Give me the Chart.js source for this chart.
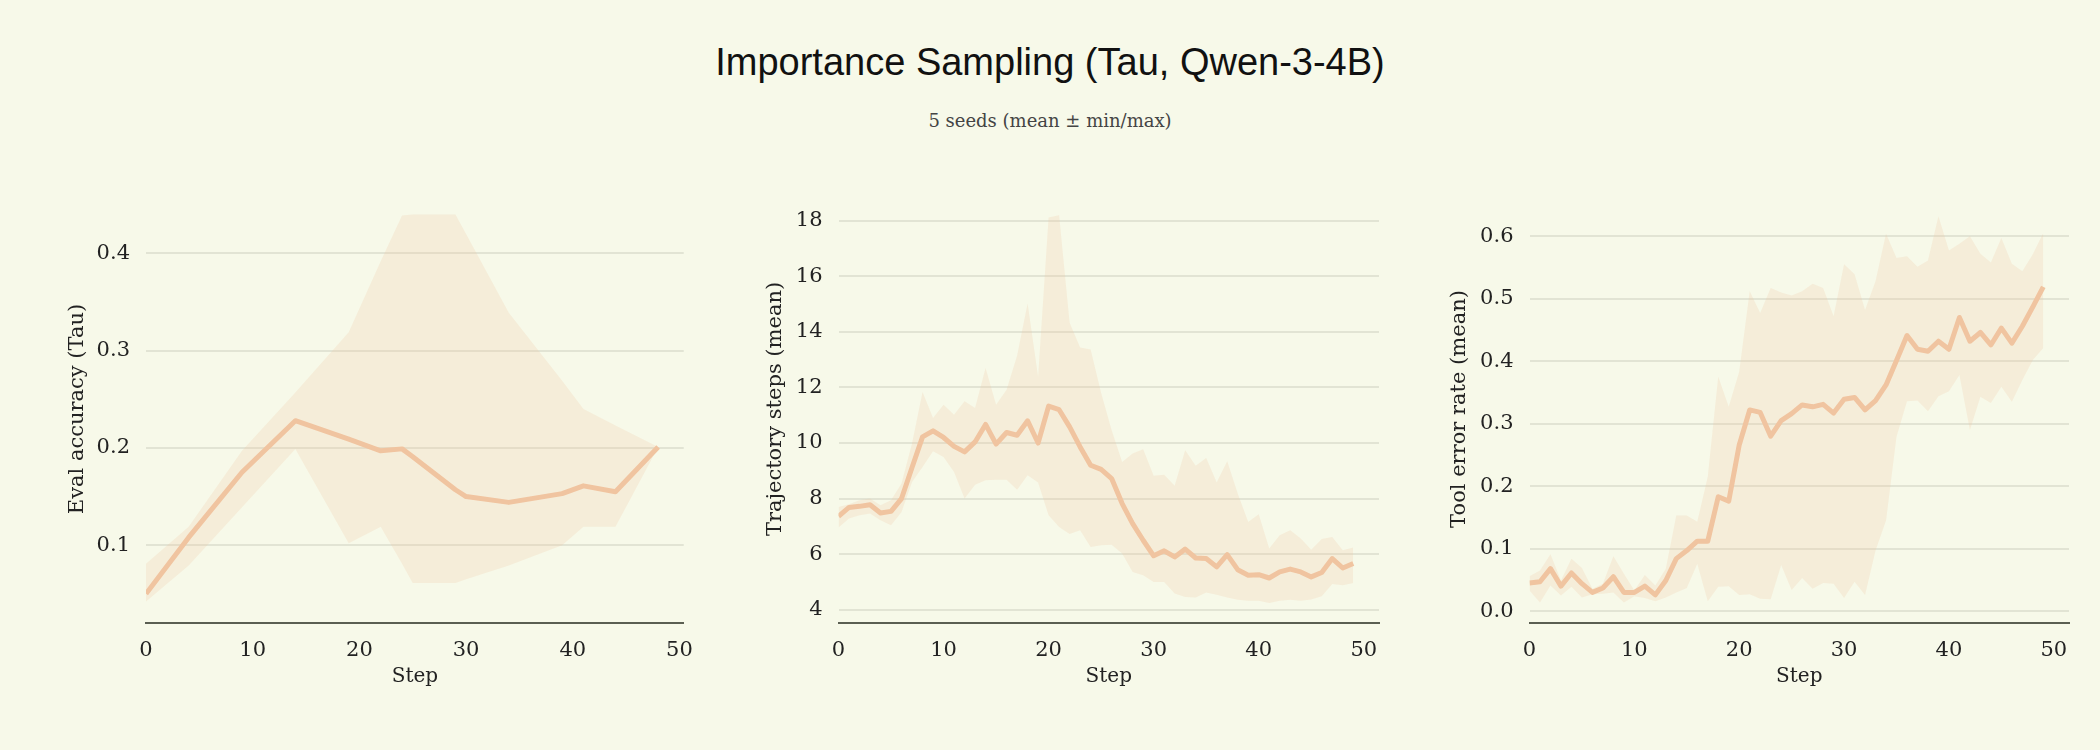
<!DOCTYPE html>
<html lang="en">
<head>
<meta charset="UTF-8" />
<title>Importance Sampling (Tau, Qwen-3-4B)</title>
<script src="https://cdn.jsdelivr.net/npm/chart.js@4.4.1/dist/chart.umd.min.js"></script>
<style>
  body { margin: 0; width: 2100px; height: 750px; background: #f7f9e9; position: relative; overflow: hidden; }
  #title { position: absolute; left: 0; top: 43px; width: 2100px; text-align: center;
           font: 38px/38px "Liberation Sans", Arial, sans-serif; color: #111; }
  #subtitle { position: absolute; left: 0; top: 112px; width: 2100px; text-align: center;
              font: 18px/18px "DejaVu Serif", serif; color: #444; }
  canvas { position: absolute; top: 190px; }
</style>
</head>
<body>
<div id="title">Importance Sampling (Tau, Qwen-3-4B)</div>
<div id="subtitle">5 seeds (mean ± min/max)</div>
<canvas id="c1" width="643" height="510" style="left:65px"></canvas>
<canvas id="c2" width="636" height="510" style="left:763px"></canvas>
<canvas id="c3" width="642" height="510" style="left:1447px"></canvas>

<script>
// ---- data ----
const xTicks = [0, 10, 20, 30, 40, 50];

// eval accuracy, only evaluated at some steps
const evalSteps = [0, 4, 9, 14, 19, 22, 24, 25, 29, 30, 34, 39, 41, 44, 48];
const evalMean  = [0.050, 0.108, 0.175, 0.228, 0.209, 0.197, 0.199, 0.191, 0.157, 0.150, 0.144, 0.153, 0.161, 0.155, 0.201];
const evalMin   = [0.042, 0.079, 0.139, 0.199, 0.102, 0.119, 0.081, 0.061, 0.061, 0.065, 0.079, 0.100, 0.119, 0.119, 0.201];
const evalMax   = [0.081, 0.119, 0.197, 0.257, 0.319, 0.392, 0.439, 0.440, 0.440, 0.420, 0.339, 0.269, 0.240, 0.223, 0.201];
const evalTicks = [0.1, 0.2, 0.3, 0.4];

const steps = [0, 1, 2, 3, 4, 5, 6, 7, 8, 9, 10, 11, 12, 13, 14, 15, 16, 17, 18, 19,
               20, 21, 22, 23, 24, 25, 26, 27, 28, 29, 30, 31, 32, 33, 34, 35, 36, 37, 38, 39,
               40, 41, 42, 43, 44, 45, 46, 47, 48, 49];

const trajMean = [7.36, 7.68, 7.72, 7.78, 7.48, 7.54, 8.0, 9.12, 10.22, 10.44,
                  10.2, 9.88, 9.68, 10.04, 10.67, 9.96, 10.38, 10.28, 10.8, 10.0,
                  11.33, 11.2, 10.58, 9.86, 9.2, 9.05, 8.72, 7.82, 7.1, 6.5,
                  5.94, 6.12, 5.9, 6.18, 5.86, 5.84, 5.54, 5.98, 5.44, 5.24,
                  5.26, 5.14, 5.36, 5.46, 5.36, 5.18, 5.34, 5.84, 5.5, 5.66];
const trajMin  = [6.96, 7.28, 7.4, 7.46, 7.22, 7.04, 7.52, 8.6, 9.14, 9.7,
                  9.5, 8.96, 8.0, 8.5, 8.66, 8.68, 8.68, 8.32, 8.84, 8.58,
                  7.4, 6.98, 6.72, 6.86, 6.26, 6.32, 6.34, 6.02, 5.36, 5.24,
                  5.0, 5.0, 4.58, 4.46, 4.44, 4.62, 4.54, 4.44, 4.36, 4.32,
                  4.32, 4.24, 4.32, 4.36, 4.32, 4.37, 4.48, 4.92, 4.88, 4.96];
const trajMax  = [7.7, 7.8, 7.94, 8.0, 7.76, 7.94, 8.54, 9.98, 11.84, 10.9,
                  11.38, 11.02, 11.5, 11.26, 12.7, 11.38, 11.92, 13.14, 15.02, 12.38,
                  18.12, 18.2, 14.33, 13.44, 13.37, 11.8, 10.46, 9.32, 9.62, 9.78,
                  8.82, 8.86, 8.46, 9.74, 9.18, 9.46, 8.58, 9.34, 8.18, 7.16,
                  7.44, 6.2, 6.68, 6.86, 6.56, 6.16, 6.54, 6.62, 6.14, 6.24];
const trajTicks = [4, 6, 8, 10, 12, 14, 16, 18];

const toolMean = [0.045, 0.047, 0.068, 0.040, 0.061, 0.044, 0.030, 0.037, 0.055, 0.030,
                  0.030, 0.040, 0.026, 0.049, 0.084, 0.097, 0.112, 0.112, 0.183, 0.176,
                  0.266, 0.322, 0.318, 0.280, 0.305, 0.316, 0.330, 0.327, 0.331, 0.317,
                  0.339, 0.342, 0.322, 0.337, 0.362, 0.401, 0.441, 0.419, 0.416, 0.432,
                  0.419, 0.470, 0.432, 0.446, 0.426, 0.453, 0.429, 0.456, 0.487, 0.519];
const toolMin  = [0.033, 0.014, 0.041, 0.025, 0.039, 0.022, 0.027, 0.028, 0.030, 0.014,
                  0.024, 0.021, 0.016, 0.022, 0.030, 0.037, 0.076, 0.016, 0.039, 0.040,
                  0.026, 0.027, 0.020, 0.019, 0.074, 0.034, 0.053, 0.036, 0.045, 0.044,
                  0.021, 0.047, 0.026, 0.097, 0.145, 0.279, 0.336, 0.337, 0.320, 0.344,
                  0.352, 0.378, 0.290, 0.343, 0.333, 0.359, 0.335, 0.370, 0.402, 0.421];
const toolMax  = [0.056, 0.065, 0.091, 0.049, 0.084, 0.069, 0.036, 0.044, 0.088, 0.060,
                  0.033, 0.058, 0.041, 0.068, 0.153, 0.153, 0.143, 0.215, 0.375, 0.327,
                  0.383, 0.512, 0.477, 0.517, 0.510, 0.505, 0.512, 0.524, 0.517, 0.472,
                  0.555, 0.539, 0.482, 0.528, 0.604, 0.565, 0.568, 0.551, 0.561, 0.632,
                  0.577, 0.588, 0.600, 0.572, 0.558, 0.597, 0.556, 0.544, 0.571, 0.605];
const toolTicks = [0.0, 0.1, 0.2, 0.3, 0.4, 0.5, 0.6];

// ---- drawing ----
const LINE = '#f0c4a0';
const BAND = 'rgba(240,196,160,0.22)';
const SERIF = '"DejaVu Serif", serif';

function pts(xs, ys) {
  return xs.map((x, i) => ({ x: x, y: ys[i] }));
}

function panel(id, xs, mean, lo, hi, o) {
  new Chart(document.getElementById(id), {
    type: 'line',
    data: {
      datasets: [
        { data: pts(xs, mean), borderColor: LINE, borderWidth: 5, borderJoinStyle: 'round',
          pointRadius: 0, fill: false, tension: 0 },
        { data: pts(xs, hi), borderWidth: 0, pointRadius: 0, backgroundColor: BAND, fill: '+1', tension: 0 },
        { data: pts(xs, lo), borderWidth: 0, pointRadius: 0, fill: false, tension: 0 }
      ]
    },
    options: {
      responsive: false,
      animation: false,
      layout: { padding: { top: 5, right: 20, left: 0, bottom: 0 } },
      plugins: { legend: { display: false }, tooltip: { enabled: false } },
      scales: {
        x: {
          type: 'linear', min: 0, max: o.xMax,
          afterBuildTicks: s => { s.ticks = xTicks.map(v => ({ value: v })); },
          afterFit: s => { s.height = 77; },
          grid: { display: false, drawTicks: false },
          border: { display: true, color: '#5b5f52', width: 2 },
          ticks: { padding: 15, color: '#222', font: { family: SERIF, size: 21 } },
          title: { display: true, text: 'Step', color: '#222', padding: { top: 0, bottom: 11 },
                   font: { family: SERIF, size: 20 } }
        },
        y: {
          min: o.yMin, max: o.yMax,
          afterBuildTicks: s => { s.ticks = o.yTicks.map(v => ({ value: v })); },
          // fixed width, and no extra top/bottom room for the tick labels
          afterFit: s => { s.width = o.axisW; s.paddingTop = 0; s.paddingBottom = 0; },
          grid: { color: '#e2e4d4', lineWidth: 2, drawTicks: false },
          border: { display: false },
          ticks: { padding: 16, color: '#222', font: { family: SERIF, size: 21 },
                   callback: v => v.toFixed(o.digits) },
          title: { display: true, text: o.label, color: '#222', padding: 0,
                   font: { family: SERIF, size: 21 } }
        }
      }
    }
  });
}

panel('c1', evalSteps, evalMean, evalMin, evalMax,
      { xMax: 50.4, yMin: 0.02, yMax: 0.46, yTicks: evalTicks, digits: 1, axisW: 81, label: 'Eval accuracy (Tau)' });
panel('c2', steps, trajMean, trajMin, trajMax,
      { xMax: 51.45, yMin: 3.52, yMax: 18.93, yTicks: trajTicks, digits: 0, axisW: 75.5, label: 'Trajectory steps (mean)' });
panel('c3', steps, toolMean, toolMin, toolMax,
      { xMax: 51.45, yMin: -0.019, yMax: 0.666, yTicks: toolTicks, digits: 1, axisW: 82.5, label: 'Tool error rate (mean)' });
</script>
</body>
</html>
